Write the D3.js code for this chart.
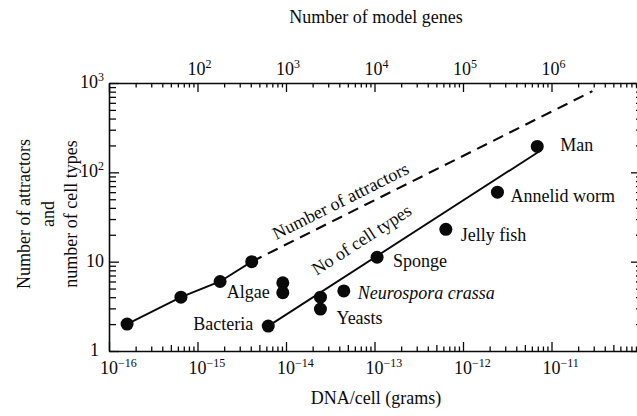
<!DOCTYPE html>
<html><head><meta charset="utf-8">
<script src="https://cdn.jsdelivr.net/npm/d3@7"></script>
<style>
body{margin:0;background:#fff;}
svg text{font-family:"Liberation Serif","Times New Roman",serif;fill:#0a0a0a;}
</style></head><body>
<svg id="chart" width="637" height="416"></svg>
<script>
// ---------- data ----------
const attractorDNA = [1.6e-16, 6.5e-16, 1.8e-15, 4.1e-15];
const attractorCount = [2, 4, 6, 10];
const attractorTrendDNA = [4.1e-15, 2.9e-11];
const attractorTrendCount = [10, 810];
const organisms = ["Algae", "Algae", "Bacteria", "Yeasts", "Yeasts", "Neurospora crassa", "Sponge", "Jelly fish", "Annelid worm", "Man"];
const organismLabels = ["", "Algae", "Bacteria", "", "Yeasts", "Neurospora crassa", "Sponge", "Jelly fish", "Annelid worm", "Man"];
const organismDNA = [9.2e-15, 9.2e-15, 6.3e-15, 2.45e-14, 2.45e-14, 4.5e-14, 1.07e-13, 6.4e-13, 2.45e-12, 6.9e-12];
const organismCellTypes = [5.8, 4.5, 1.9, 4.0, 2.95, 4.7, 11.2, 23, 60, 195];
const cellTrendDNA = [6.3e-15, 7.7e-12];
const cellTrendCount = [1.9, 178];
const bottomTickExp = [-16, -15, -14, -13, -12, -11];
const topTickExp = [2, 3, 4, 5, 6];
const leftTickLabels = ["1", "10", "10^2", "10^3"];
const leftTickValues = [1, 10, 100, 1000];
const xTitle = "DNA/cell (grams)";
const topTitle = "Number of model genes";
const yTitleLines = ["Number of attractors", "and", "number of cell types"];
const attractorLineLabel = "Number of attractors";
const cellLineLabel = "No of cell types";

// ---------- layout ----------
const svg = d3.select("#chart");
const L = 109, R = 640, T = 83, B = 351;
const x = d3.scaleLog().domain([1e-16, 1e-10]).range([L, R]);
const xTop = d3.scaleLog().domain([10, 1e7]).range([L, R]);
const y = d3.scaleLog().domain([1, 1000]).range([B, T]);
const ink = "#0a0a0a";

function minorsOf(lo, hi) {
  const out = [];
  for (let e = lo; e < hi; e++) for (let m = 2; m <= 9; m++) out.push(m * Math.pow(10, e));
  return out;
}
const xMinor = minorsOf(-16, -10);
const xMinor5 = xMinor.filter(v => Math.abs(v / Math.pow(10, Math.floor(Math.log10(v) + 1e-9)) - 5) < 1e-6);
const xMinorOther = xMinor.filter(v => !xMinor5.includes(v));
const topMinor = minorsOf(1, 7);
const yMinor = minorsOf(0, 3);

function styleAxis(g) {
  g.selectAll("path.domain").attr("stroke", ink).attr("stroke-width", 1.6);
  g.selectAll(".tick line").attr("stroke", ink).attr("stroke-width", 1.3);
  g.selectAll(".tick text").remove();
}

// bottom axis
svg.append("g").attr("transform", `translate(0,${B})`)
  .call(d3.axisBottom(x).tickValues(bottomTickExp.map(e => Math.pow(10, e))).tickSize(-9).tickSizeOuter(0).tickFormat(""))
  .call(styleAxis);
svg.append("g").attr("transform", `translate(0,${B})`)
  .call(d3.axisBottom(x).tickValues(xMinorOther).tickSize(-4.5).tickSizeOuter(0).tickFormat(""))
  .call(styleAxis).call(g => g.select(".domain").remove());
svg.append("g").attr("transform", `translate(0,${B})`)
  .call(d3.axisBottom(x).tickValues(xMinor5).tickSize(-6).tickSizeOuter(0).tickFormat(""))
  .call(styleAxis).call(g => g.select(".domain").remove());

// top axis
svg.append("g").attr("transform", `translate(0,${T})`)
  .call(d3.axisTop(xTop).tickValues([10].concat(topTickExp.map(e => Math.pow(10, e))).concat([1e7])).tickSize(-9).tickSizeOuter(0).tickFormat(""))
  .call(styleAxis);
svg.append("g").attr("transform", `translate(0,${T})`)
  .call(d3.axisTop(xTop).tickValues(topMinor).tickSize(-4.5).tickSizeOuter(0).tickFormat(""))
  .call(styleAxis).call(g => g.select(".domain").remove());

// left axis
svg.append("g").attr("transform", `translate(${L},0)`)
  .call(d3.axisLeft(y).tickValues(leftTickValues).tickSize(-10).tickSizeOuter(0).tickFormat(""))
  .call(styleAxis);
svg.append("g").attr("transform", `translate(${L},0)`)
  .call(d3.axisLeft(y).tickValues(yMinor).tickSize(-7).tickSizeOuter(0).tickFormat(""))
  .call(styleAxis).call(g => g.select(".domain").remove());

// right axis
svg.append("g").attr("transform", `translate(${R},0)`)
  .call(d3.axisRight(y).tickValues(leftTickValues).tickSize(-9).tickSizeOuter(0).tickFormat(""))
  .call(styleAxis);
svg.append("g").attr("transform", `translate(${R},0)`)
  .call(d3.axisRight(y).tickValues(yMinor).tickSize(-4).tickSizeOuter(0).tickFormat(""))
  .call(styleAxis).call(g => g.select(".domain").remove());

// tick labels
function powerLabel(sel, base, exp) {
  sel.append("tspan").text(base);
  sel.append("tspan").attr("dy", -7).attr("font-size", 12).text(exp);
}
bottomTickExp.forEach(e => {
  const t = svg.append("text").attr("x", x(Math.pow(10, e)) - 9).attr("y", 374).attr("font-size", 18);
  powerLabel(t, "10", (e < 0 ? "\u2212" : "") + Math.abs(e));
});
topTickExp.forEach(e => {
  const t = svg.append("text").attr("x", xTop(Math.pow(10, e)) - 10).attr("y", 75).attr("font-size", 18);
  powerLabel(t, "10", String(e));
});
leftTickLabels.forEach((s, i) => {
  const isOne = s === "1";
  const t = svg.append("text").attr("x", isOne ? 99 : 104).attr("y", y(leftTickValues[i]) + 5)
    .attr("text-anchor", "end").attr("font-size", 18);
  const parts = s.split("^");
  if (parts.length > 1) powerLabel(t, parts[0], parts[1]); else t.text(s);
});

// titles
svg.append("text").attr("x", 376).attr("y", 23).attr("text-anchor", "middle").attr("font-size", 18).text(topTitle);
svg.append("text").attr("x", 376).attr("y", 404).attr("text-anchor", "middle").attr("font-size", 18).text(xTitle);
const yTitleX = [30, 54, 77];
yTitleLines.forEach((s, i) => {
  svg.append("text").attr("transform", `translate(${yTitleX[i]},214) rotate(-90)`)
    .attr("text-anchor", "middle").attr("font-size", 18).text(s);
});

// lines
const line = d3.line().x(d => x(d[0])).y(d => y(d[1]));
const attrPts = attractorDNA.map((d, i) => [d, attractorCount[i]]);
svg.append("path").attr("d", line(attrPts)).attr("fill", "none").attr("stroke", ink).attr("stroke-width", 1.9);
const attrTrend = attractorTrendDNA.map((d, i) => [d, attractorTrendCount[i]]);
svg.append("path").attr("d", line(attrTrend)).attr("fill", "none").attr("stroke", ink)
  .attr("stroke-width", 2.1).attr("stroke-dasharray", "11,7");
const cellTrend = cellTrendDNA.map((d, i) => [d, cellTrendCount[i]]);
svg.append("path").attr("d", line(cellTrend)).attr("fill", "none").attr("stroke", ink).attr("stroke-width", 1.9);

// dots
svg.append("g").selectAll("circle").data(attrPts).join("circle")
  .attr("cx", d => x(d[0])).attr("cy", d => y(d[1])).attr("r", 6.5).attr("fill", ink);
const orgPts = organismDNA.map((d, i) => ({dna: d, n: organismCellTypes[i], label: organismLabels[i]}));
svg.append("g").selectAll("circle").data(orgPts).join("circle")
  .attr("cx", d => x(d.dna)).attr("cy", d => y(d.n)).attr("r", 6.5).attr("fill", ink);

// organism labels (offsets relative to their dot)
const labelOffset = {
  "Algae": [-13, 5, "end"], "Bacteria": [-15, 4, "end"], "Yeasts": [16, 15, "start"],
  "Neurospora crassa": [14, 8, "start"], "Sponge": [16, 10, "start"], "Jelly fish": [15, 12, "start"],
  "Annelid worm": [13, 10, "start"], "Man": [23, 5, "start"]
};
orgPts.filter(d => d.label).forEach(d => {
  const o = labelOffset[d.label];
  svg.append("text").attr("x", x(d.dna) + o[0]).attr("y", y(d.n) + o[1])
    .attr("text-anchor", o[2]).attr("font-size", 18)
    .attr("font-style", d.label === "Neurospora crassa" ? "italic" : null).text(d.label);
});

// line labels, rotated along their lines
function lineLabel(pts, text, frac, offset) {
  const x0 = x(pts[0][0]), y0 = y(pts[0][1]), x1 = x(pts[1][0]), y1 = y(pts[1][1]);
  const ang = Math.atan2(y1 - y0, x1 - x0) * 180 / Math.PI;
  const cx = x0 + (x1 - x0) * frac, cy = y0 + (y1 - y0) * frac;
  svg.append("text").attr("transform", `translate(${cx},${cy}) rotate(${ang})`)
    .attr("text-anchor", "middle").attr("y", -offset).attr("font-size", 18).text(text);
}
lineLabel(attrTrend, attractorLineLabel, 0.28, 8.5);
lineLabel(cellTrend, cellLineLabel, 0.385, 16);
</script></body></html>
